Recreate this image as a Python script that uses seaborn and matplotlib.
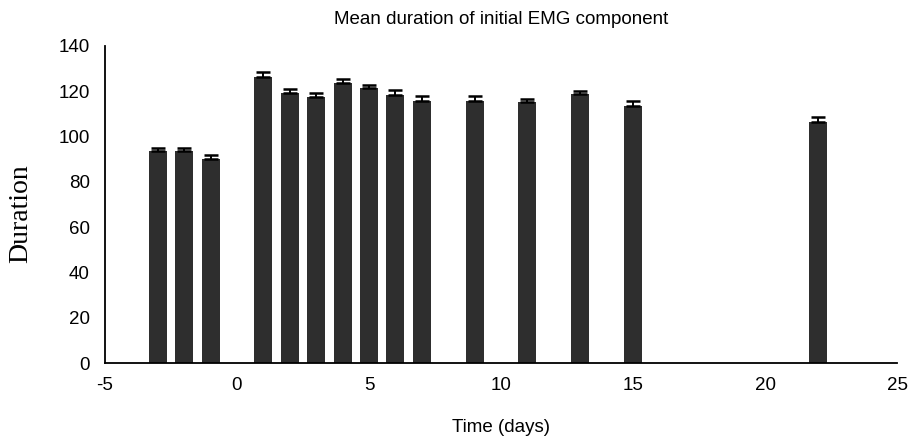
import numpy as np
import pandas as pd
import matplotlib
matplotlib.use("Agg")
import matplotlib.pyplot as plt
import seaborn as sns

# Mean duration of the initial EMG component per recording day
days = [-3, -2, -1, 1, 2, 3, 4, 5, 6, 7, 9, 11, 13, 15, 22]
mean_duration = [93.5, 93.5, 90.3, 126.5, 119.2, 117.6, 123.5, 121.3, 118.5,
                 115.8, 115.9, 115.1, 118.7, 113.7, 106.4]
sem = [1.6, 1.6, 1.5, 1.9, 1.7, 1.6, 1.8, 1.6, 1.9, 2.1, 1.9, 1.5, 1.6, 2.0, 2.4]

x_ticks = [-5, 0, 5, 10, 15, 20, 25]
y_ticks = [0, 20, 40, 60, 80, 100, 120, 140]

df = pd.DataFrame({"Time (days)": days, "Duration": mean_duration, "sem": sem})

sns.set_theme(style="white")
plt.rcParams["font.family"] = ["Liberation Sans", "DejaVu Sans"]

fig, ax = plt.subplots(figsize=(9.13, 4.43), dpi=100)
fig.subplots_adjust(left=105 / 913, right=897 / 913, top=1 - 46 / 443, bottom=1 - 363 / 443)

bar_color = "#2e2e2e"
sns.barplot(data=df, x="Time (days)", y="Duration", native_scale=True,
            width=0.68, color=bar_color, saturation=1, errorbar=None,
            edgecolor=bar_color, linewidth=0, ax=ax)

# upper error bars only, as on the original figure
ax.errorbar(df["Time (days)"], df["Duration"],
            yerr=[np.zeros(len(df)), df["sem"]],
            fmt="none", ecolor="black", elinewidth=1.4, capsize=5, capthick=1.8,
            zorder=5)

ax.set_xlim(-5, 25)
ax.set_ylim(0, 140)
ax.set_xticks(x_ticks)
ax.set_yticks(y_ticks)
ax.set_xticklabels([str(t) for t in x_ticks])
ax.set_yticklabels([str(t) for t in y_ticks])

sns.despine(ax=ax)
for side in ("left", "bottom"):
    ax.spines[side].set_color("black")
    ax.spines[side].set_linewidth(1.3)

ax.tick_params(axis="both", which="major", direction="out", length=4, width=1.1,
               color="black", labelsize=13.5, labelcolor="black")
ax.tick_params(axis="y", pad=7)
ax.tick_params(axis="x", pad=6)

ax.set_xlabel("Time (days)", fontsize=13.5, color="black", labelpad=18)
ax.set_ylabel("Duration", fontsize=20, color="black",
              family=["Liberation Serif", "DejaVu Serif"])
ax.yaxis.set_label_coords(-0.091, 0.47)
ax.set_title("Mean duration of initial EMG component", fontsize=13.5,
             color="black", pad=16)

fig.savefig("out.png", dpi=100, facecolor="white")
